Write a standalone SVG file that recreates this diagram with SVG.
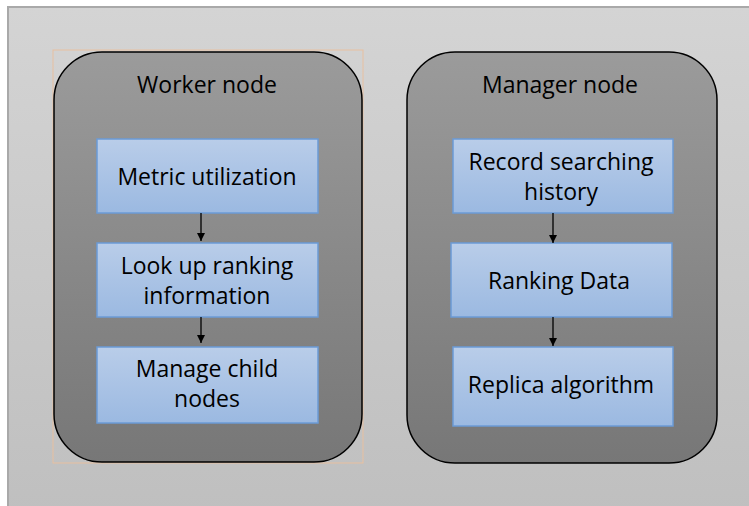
<svg xmlns="http://www.w3.org/2000/svg" width="749" height="506" viewBox="0 0 749 506">
<defs>
<linearGradient id="bg" x1="0" y1="0" x2="0" y2="1"><stop offset="0" stop-color="#d4d4d4"/><stop offset="1" stop-color="#bfbfbf"/></linearGradient>
<linearGradient id="cont" x1="0" y1="0" x2="0" y2="1"><stop offset="0" stop-color="#9b9b9b"/><stop offset="1" stop-color="#777777"/></linearGradient>
<linearGradient id="box" x1="0" y1="0" x2="0" y2="1"><stop offset="0" stop-color="#b9cde9"/><stop offset="1" stop-color="#9bb9e1"/></linearGradient>
<marker id="arr" viewBox="0 0 10 10" refX="10" refY="5" markerWidth="8" markerHeight="8" markerUnits="userSpaceOnUse" orient="auto"><path d="M0,0 L10,5 L0,10 z" fill="#000"/></marker>
<style>
.cont{fill:url(#cont);stroke:#000;stroke-width:1.5}
.box{fill:url(#box);stroke:#6b9bd6;stroke-width:1.5}
.t{font-family:"Open Sans","Liberation Sans",sans-serif;font-size:23px;fill:#000;text-anchor:middle}
.c{stroke:#000;stroke-width:1.3;fill:none;marker-end:url(#arr)}
</style>
</defs>
<rect x="0" y="0" width="749" height="506" fill="#fff"/>
<rect x="8" y="7" width="750" height="510" fill="url(#bg)" stroke="#a9a9a9" stroke-width="2"/>
<g id="worker">
<rect x="53" y="50" width="310" height="413" fill="none" stroke="#e8c0a0" stroke-width="1"/>
<rect class="cont" x="54" y="52" width="308" height="410" rx="48" ry="48"/>
<text class="t" x="207" y="93">Worker node</text>
</g>
<g id="metric">
<rect class="box" x="97" y="139" width="221" height="74"/>
<text class="t" x="207" y="185">Metric utilization</text>
</g>
<g id="lookup">
<rect class="box" x="97" y="243" width="221" height="74"/>
<text class="t" x="207" y="274">Look up ranking</text>
<text class="t" x="207" y="304">information</text>
</g>
<g id="manage">
<rect class="box" x="97" y="347" width="221" height="76"/>
<text class="t" x="207" y="377">Manage child</text>
<text class="t" x="207" y="407">nodes</text>
</g>
<g id="manager">
<rect class="cont" x="407" y="52" width="310" height="411" rx="48" ry="48"/>
<text class="t" x="560" y="93">Manager node</text>
</g>
<g id="record">
<rect class="box" x="453" y="139" width="220" height="74"/>
<text class="t" x="561" y="170">Record searching</text>
<text class="t" x="561" y="200">history</text>
</g>
<g id="ranking">
<rect class="box" x="451" y="243" width="221" height="74"/>
<text class="t" x="559" y="289">Ranking Data</text>
</g>
<g id="replica">
<rect class="box" x="453" y="347" width="220" height="79"/>
<text class="t" x="561" y="393">Replica algorithm</text>
</g>
<g id="connectors">
<line class="c" x1="201" y1="213" x2="201" y2="241"/>
<line class="c" x1="201" y1="317" x2="201" y2="343"/>
<line class="c" x1="553" y1="213" x2="553" y2="243"/>
<line class="c" x1="553" y1="317" x2="553" y2="346"/>
</g>
</svg>
